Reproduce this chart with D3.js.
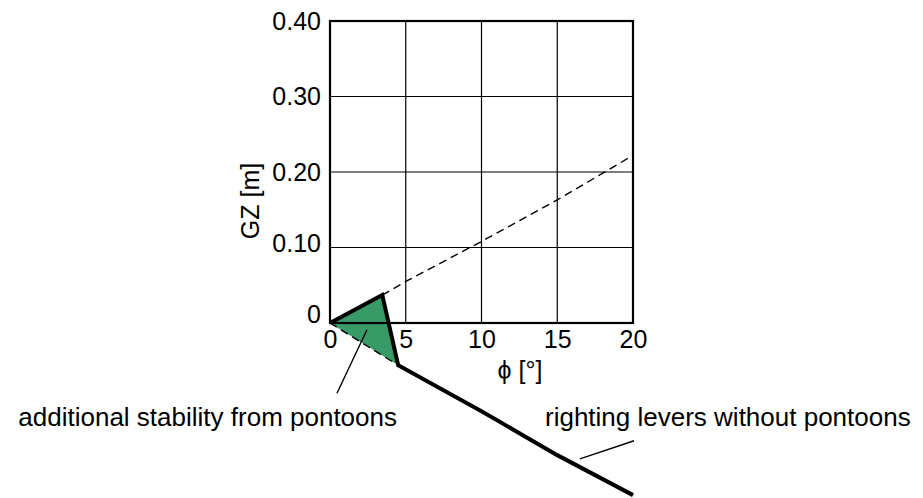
<!DOCTYPE html>
<html>
<head>
<meta charset="utf-8">
<script src="https://cdn.jsdelivr.net/npm/d3@7"></script>
<style>
  body { margin: 0; background: #fff; }
  svg { display: block; font-family: "Liberation Sans", Arial, sans-serif; }
</style>
</head>
<body>
<div id="chart"></div>
<script>
// axis ticks
var phiTicks = [0, 5, 10, 15, 20];
var gzTicks = [0, 0.1, 0.2, 0.3, 0.4];
var gzTickLabels = ["0", "0.10", "0.20", "0.30", "0.40"];

// righting levers with pontoons (thick line)
var thickPhi = [0, 3.45, 4.5, 10, 15, 20];
var thickGz = [0, 0.037, -0.056, -0.117, -0.175, -0.228];

// continuation without drop (dashed)
var dashPhi = [3.45, 5, 10, 15, 20];
var dashGz = [0.037, 0.055, 0.108, 0.163, 0.222];

// lower dashed edge
var lowPhi = [0, 4.5];
var lowGz = [0, -0.056];

// additional stability area
var areaPhi = [0, 3.45, 4.5];
var areaGz = [0, 0.037, -0.056];

// annotation leaders, [phi, gz] pairs
var leader1 = [[2.44, -0.009], [0.46, -0.093]];
var leader2 = [[16.5, -0.180], [20.07, -0.156]];

var width = 923, height = 498;
var margin = {top: 21, right: 290, bottom: 175, left: 330};

var x = d3.scaleLinear().domain([0, 20]).range([margin.left, width - margin.right]);
var y = d3.scaleLinear().domain([0, 0.4]).range([height - margin.bottom, margin.top]);

var svg = d3.select("#chart").append("svg")
    .attr("width", width)
    .attr("height", height);

// grid
svg.append("g")
    .selectAll("line")
    .data(phiTicks.slice(1, -1))
    .join("line")
    .attr("x1", d => x(d)).attr("x2", d => x(d))
    .attr("y1", y(0)).attr("y2", y(0.4))
    .attr("stroke", "#000").attr("stroke-width", 1.2);

svg.append("g")
    .selectAll("line")
    .data(gzTicks.slice(1, -1))
    .join("line")
    .attr("x1", x(0)).attr("x2", x(20))
    .attr("y1", d => y(d)).attr("y2", d => y(d))
    .attr("stroke", "#000").attr("stroke-width", 1.2);

// green area
var line = d3.line().x(d => x(d[0])).y(d => y(d[1]));
svg.append("path")
    .attr("d", line(d3.zip(areaPhi, areaGz)) + "Z")
    .attr("fill", "#389b67");

// frame
svg.append("rect")
    .attr("x", x(0)).attr("y", y(0.4))
    .attr("width", x(20) - x(0)).attr("height", y(0) - y(0.4))
    .attr("fill", "none").attr("stroke", "#000").attr("stroke-width", 2.2);

svg.append("path")
    .attr("d", line(d3.zip(dashPhi, dashGz)))
    .attr("fill", "none").attr("stroke", "#000")
    .attr("stroke-width", 1.4).attr("stroke-dasharray", "8,5");

svg.append("path")
    .attr("d", line(d3.zip(lowPhi, lowGz)))
    .attr("fill", "none").attr("stroke", "#000")
    .attr("stroke-width", 1.4).attr("stroke-dasharray", "8,5");

svg.append("path")
    .attr("d", line(d3.zip(thickPhi, thickGz)))
    .attr("fill", "none").attr("stroke", "#000")
    .attr("stroke-width", 4).attr("stroke-linejoin", "miter");

// leaders
[leader1, leader2].forEach(l => {
    svg.append("path")
        .attr("d", line(l))
        .attr("stroke", "#000").attr("stroke-width", 1.4);
});

// axes
var yAxis = svg.append("g")
    .attr("transform", `translate(${x(0)},0)`)
    .call(d3.axisLeft(y).tickValues(gzTicks).tickFormat((d, i) => gzTickLabels[i]).tickSize(0).tickPadding(9));
yAxis.select(".domain").remove();
yAxis.selectAll("text")
    .attr("font-size", 25).attr("fill", "#000")
    .attr("font-family", "Liberation Sans, Arial, sans-serif")
    .attr("dy", d => d === 0 ? "-0.02em" : (d < 0.15 ? "0.15em" : "0.32em"));

var xAxis = svg.append("g")
    .attr("transform", `translate(0,${y(0)})`)
    .call(d3.axisBottom(x).tickValues(phiTicks).tickSize(0).tickPadding(7));
xAxis.select(".domain").remove();
xAxis.selectAll("text")
    .attr("font-size", 25).attr("fill", "#000")
    .attr("font-family", "Liberation Sans, Arial, sans-serif");

svg.append("text")
    .attr("transform", `translate(259,${(y(0.4) + y(0)) / 2 + 29}) rotate(-90)`)
    .attr("text-anchor", "middle")
    .attr("font-size", 25)
    .text("GZ [m]");

svg.append("text")
    .attr("x", 520).attr("y", 379)
    .attr("text-anchor", "middle")
    .attr("font-size", 25)
    .text("ϕ [°]");

svg.append("text")
    .attr("x", 397).attr("y", 426)
    .attr("text-anchor", "end")
    .attr("font-size", 26)
    .text("additional stability from pontoons");

svg.append("text")
    .attr("x", 545).attr("y", 426)
    .attr("font-size", 26)
    .text("righting levers without pontoons");
</script>
</body>
</html>
